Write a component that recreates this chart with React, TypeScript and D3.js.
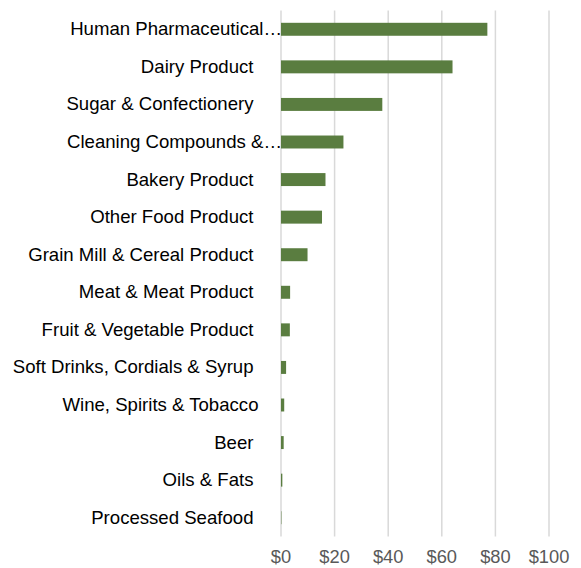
import React from "react";
import * as d3 from "d3";

const categories = [
  "Human Pharmaceutical…",
  "Dairy Product",
  "Sugar & Confectionery",
  "Cleaning Compounds &…",
  "Bakery Product",
  "Other Food Product",
  "Grain Mill & Cereal Product",
  "Meat & Meat Product",
  "Fruit & Vegetable Product",
  "Soft Drinks, Cordials & Syrup",
  "Wine, Spirits & Tobacco",
  "Beer",
  "Oils & Fats",
  "Processed Seafood",
];
const values = [77, 64, 37.8, 23.3, 16.6, 15.3, 9.9, 3.4, 3.3, 1.9, 1.2, 1.0, 0.5, 0.15];
const xTicks = [0, 20, 40, 60, 80, 100];

const W = 581;
const H = 568;
const left = 281;
const right = 549;
const top = 10.5;
const bottom = 536.5;

export default function App() {
  const x = d3.scaleLinear().domain([0, 100]).range([left, right]);
  const y = d3.scaleBand().domain(categories).range([top, bottom]).paddingInner(0.655).paddingOuter(0.3275);
  const fmt = (v: number) => `$${v}`;
  const labelX = (c: string) => {
    if (c.endsWith("…")) return left + 1;
    if (c.startsWith("Wine")) return 258.5;
    return 253.5;
  };
  return (
    <svg
      width={W}
      height={H}
      style={{ position: "absolute", left: 0, top: 0, background: "#fff" }}
      fontFamily="'Liberation Sans', Arial, sans-serif"
    >
      {xTicks.map((t) => (
        <line key={t} x1={x(t)} x2={x(t)} y1={top} y2={bottom} stroke="#d9d9d9" strokeWidth={1.5} />
      ))}
      {xTicks.map((t) => (
        <text key={"t" + t} x={x(t)} y={562.5} textAnchor="middle" fontSize={18.3} fill="#595959">
          {fmt(t)}
        </text>
      ))}
      {categories.map((c, i) => (
        <rect
          key={c}
          x={x(0)}
          y={y(c)!}
          width={Math.max(0, x(values[i]) - x(0))}
          height={y.bandwidth()}
          fill="#5a7d40"
        />
      ))}
      {categories.map((c) => (
        <text
          key={"l" + c}
          x={labelX(c)}
          y={y(c)! + y.bandwidth() / 2 - 0.5}
          dy="0.35em"
          textAnchor="end"
          fontSize={18.6}
          fill="#000"
        >
          {c}
        </text>
      ))}
    </svg>
  );
}
